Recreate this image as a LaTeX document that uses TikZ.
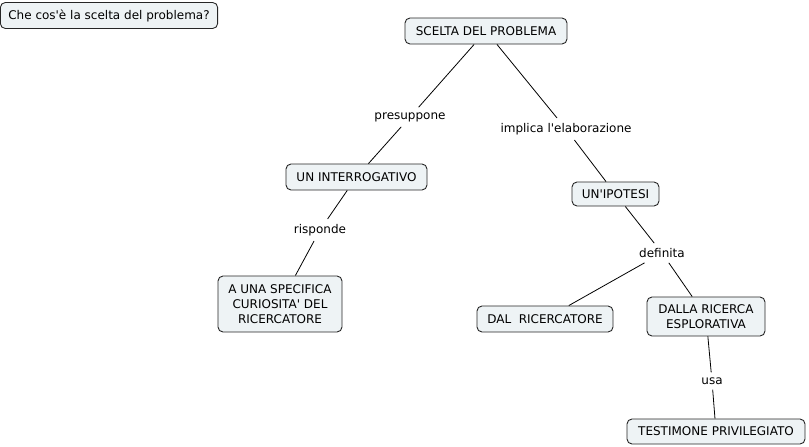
\documentclass[tikz,border=0pt]{standalone}
\usepackage{fontspec}
\setmainfont{DejaVu Sans}
\usetikzlibrary{positioning}
\definecolor{cmapfill}{HTML}{EEF3F5}

\begin{document}
\begin{tikzpicture}[x=1pt, y=-1pt, on grid, font=\fontsize{12}{15}\selectfont,
    concept/.style={draw=black!85, line width=0.9pt, rounded corners=5pt, fill=cmapfill, align=center, inner xsep=8pt, inner ysep=4pt, minimum height=26pt},
    link/.style={inner sep=5pt},
    conn/.style={line width=0.8pt}]
    \useasboundingbox (0,0) rectangle (809,447);
    \node (question) [concept, minimum width=216pt] at (109,15.5) {Che cos\textquotesingle è la scelta del problema?};
    \node (scelta) [concept, minimum width=162pt] at (486,31) {SCELTA DEL PROBLEMA};
    \node (presup) [link, below left=86pt and 76pt of scelta] {presuppone};
    \node (interr) [concept, minimum width=141pt, below left=60pt and 53.5pt of presup] {UN INTERROGATIVO};
    \node (risponde) [link, below left=53pt and 36.5pt of interr] {risponde};
    \node (curios) [concept, minimum width=124pt, minimum height=56pt, below left=74pt and 40pt of risponde] {A UNA SPECIFICA\\CURIOSITA\textquotesingle{} DEL\\ RICERCATORE};
    \node (implica) [link, below right=98pt and 80pt of scelta] {implica l\textquotesingle elaborazione};
    \node (ipotesi) [concept, minimum width=87pt, minimum height=24pt, below right=65pt and 49.5pt of implica] {UN\textquotesingle IPOTESI};
    \node (definita) [link, below right=59pt and 46.5pt of ipotesi] {definita};
    \node (dal) [concept, minimum width=136pt, below left=66pt and 117pt of definita] {DAL\ \ RICERCATORE};
    \node (dalla) [concept, minimum width=118pt, minimum height=39pt, below right=63.5pt and 44pt of definita] {DALLA RICERCA\\ESPLORATIVA};
    \node (usa) [link, below right=64.5pt and 6pt of dalla] {usa};
    \node (testim) [concept, minimum width=178pt, minimum height=25pt, below right=50.5pt and 4pt of usa] {TESTIMONE PRIVILEGIATO};

    \draw[conn] (scelta) -- (presup);
    \draw[conn] (presup) -- (interr);
    \draw[conn] (interr) -- (risponde);
    \draw[conn] (risponde) -- (curios);
    \draw[conn] (scelta) -- (implica);
    \draw[conn] (implica) -- (ipotesi);
    \draw[conn] (ipotesi) -- (definita);
    \draw[conn] (definita) -- (dal);
    \draw[conn] (definita) -- (dalla);
    \draw[conn] (dalla) -- (usa);
    \draw[conn] (usa) -- (testim);
\end{tikzpicture}
\end{document}
